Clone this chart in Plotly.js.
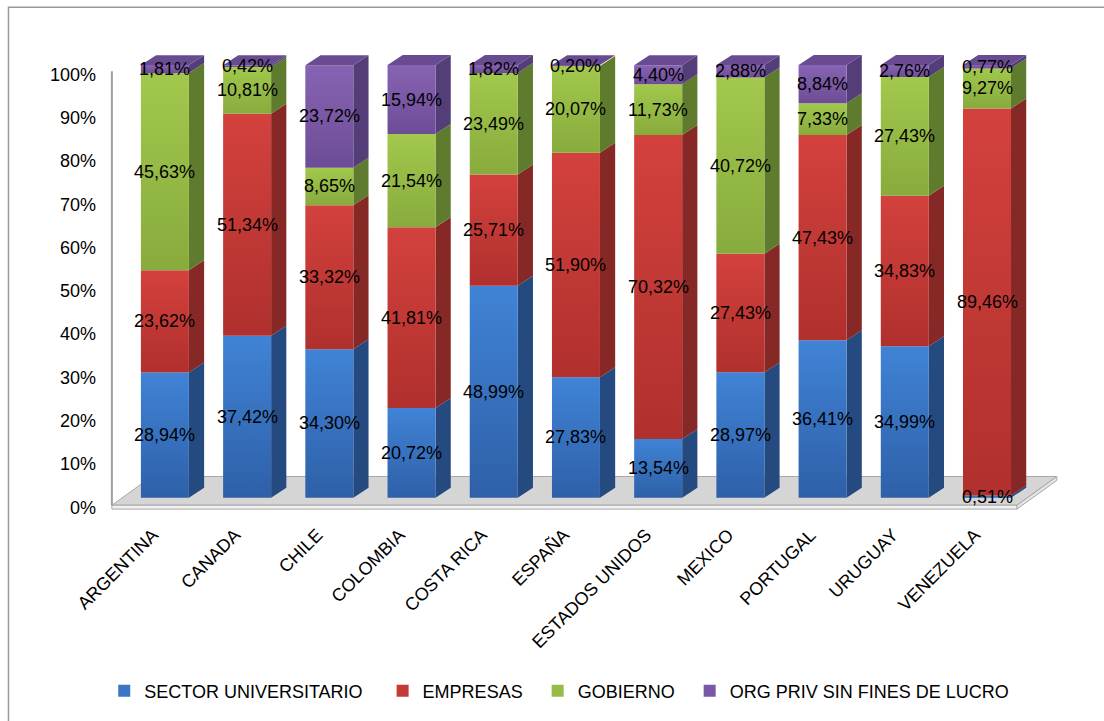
<!DOCTYPE html>
<html>
<head>
<meta charset="utf-8">
<script src="https://cdn.plot.ly/plotly-3.0.1.min.js"></script>
<style>
  html, body { margin: 0; padding: 0; background: #ffffff; }
  #chart { width: 1104px; height: 721px; }
</style>
</head>
<body>
<div id="chart"></div>
<script>
// Gasto en I+D por sector de financiamiento (% del total)
const countries = ['ARGENTINA', 'CANADA', 'CHILE', 'COLOMBIA', 'COSTA RICA', 'ESPAÑA',
                   'ESTADOS UNIDOS', 'MEXICO', 'PORTUGAL', 'URUGUAY', 'VENEZUELA'];
const seriesNames = ['SECTOR UNIVERSITARIO', 'EMPRESAS', 'GOBIERNO', 'ORG PRIV SIN FINES DE LUCRO'];

const universitario = [28.94, 37.42, 34.30, 20.72, 48.99, 27.83, 13.54, 28.97, 36.41, 34.99, 0.51];
const empresas      = [23.62, 51.34, 33.32, 41.81, 25.71, 51.90, 70.32, 27.43, 47.43, 34.83, 89.46];
const gobierno      = [45.63, 10.81,  8.65, 21.54, 23.49, 20.07, 11.73, 40.72,  7.33, 27.43,  9.27];
const orgPriv       = [ 1.81,  0.42, 23.72, 15.94,  1.82,  0.20,  4.40,  2.88,  8.84,  2.76,  0.77];

const series = [universitario, empresas, gobierno, orgPriv];

// Face colours: front (top / bottom of gradient), side, top
const frontTop    = ['#4083d6', '#d3413d', '#a2c84d', '#8764b3'];
const frontBottom = ['#2e60a8', '#b0302d', '#88ab3d', '#6d4c97'];
const sideColor   = ['#254a80', '#852826', '#5f7c2e', '#533e78'];
const topColor    = ['#4d86cc', '#c2403c', '#8fb245', '#684b91'];
const legendColor = ['#3a76c4', '#c43a36', '#96bc47', '#7a58a6'];

// 3D geometry (category units / percent units)
const BAR_W = 0.584;
const DEPTH_X = 0.185;
const DEPTH_Y = 2.3;
const BASE_Y = 2.2;

const fmt = v => v.toFixed(2).replace('.', ',') + '%';
// trailing spacing after each legend entry
const legendPad = ['\u00a0\u00a0\u00a0', '\u00a0\u00a0', '\u00a0\u00a0', ''];

const traces = [];
const annotations = [];

// cumulative stacks
const bases = series.map(() => []);
countries.forEach((c, i) => {
  let acc = 0;
  series.forEach((s, k) => { bases[k][i] = acc; acc += s[i]; });
});

// side faces (one trace per series)
series.forEach((s, k) => {
  const xs = [], ys = [];
  countries.forEach((c, i) => {
    const xr = i + BAR_W / 2;
    const b = bases[k][i] + BASE_Y;
    const t = b + s[i];
    xs.push(xr, xr + DEPTH_X, xr + DEPTH_X, xr, xr, null);
    ys.push(b, b + DEPTH_Y, t + DEPTH_Y, t, b, null);
  });
  traces.push({
    type: 'scatter', mode: 'lines', x: xs, y: ys, fill: 'toself',
    fillcolor: sideColor[k], line: { width: 0 }, hoverinfo: 'skip', showlegend: false
  });
});

// front faces (one per segment, vertical gradient)
series.forEach((s, k) => {
  countries.forEach((c, i) => {
    if (s[i] <= 0) return;
    const xl = i - BAR_W / 2, xr = i + BAR_W / 2;
    const b = bases[k][i] + BASE_Y;
    const t = b + s[i];
    traces.push({
      type: 'scatter', mode: 'lines',
      x: [xl, xr, xr, xl, xl], y: [b, b, t, t, b],
      fill: 'toself', fillcolor: frontTop[k],
      fillgradient: { type: 'vertical', start: b, stop: t,
                      colorscale: [[0, frontBottom[k]], [1, frontTop[k]]] },
      line: { width: 0 }, hoverinfo: 'skip', showlegend: false
    });
  });
});

// top faces of the highest segment
{
  const xs = [], ys = [];
  const topK = series.length - 1;
  countries.forEach((c, i) => {
    const xl = i - BAR_W / 2, xr = i + BAR_W / 2;
    const t = bases[topK][i] + series[topK][i] + BASE_Y;
    xs.push(xl, xr, xr + DEPTH_X, xl + DEPTH_X, xl, null);
    ys.push(t, t, t + DEPTH_Y, t + DEPTH_Y, t, null);
  });
  traces.push({
    type: 'scatter', mode: 'lines', x: xs, y: ys, fill: 'toself',
    fillcolor: topColor[topK], line: { width: 0 }, hoverinfo: 'skip', showlegend: false
  });
}

// legend entries
series.forEach((s, k) => {
  traces.push({
    type: 'bar', name: seriesNames[k] + legendPad[k],
    x: [null], y: [null],
    marker: { color: legendColor[k] }, showlegend: true, hoverinfo: 'skip'
  });
});

// value labels centred on each front face
series.forEach((s, k) => {
  countries.forEach((c, i) => {
    annotations.push({
      x: i, y: bases[k][i] + s[i] / 2 + BASE_Y, xref: 'x', yref: 'y',
      text: fmt(s[i]), showarrow: false,
      font: { family: 'Liberation Sans, Arial, sans-serif', size: 18, color: '#000000' }
    });
  });
});

// floor slab and left wall edge
const FL = -0.645, FR = 10.365, DX = 0.485, FY = 0.46, BY = 7.1, TH = 0.9;
const shapes = [
  { type: 'path', layer: 'below', xref: 'x', yref: 'y',
    path: `M${FL},${FY} L${FR},${FY} L${FR + DX},${BY} L${FL + DX},${BY} Z`,
    fillcolor: '#d5d5d5', line: { color: '#a8a8a8', width: 1 } },
  { type: 'path', layer: 'below', xref: 'x', yref: 'y',
    path: `M${FL},${FY} L${FR},${FY} L${FR},${FY - TH} L${FL},${FY - TH} Z`,
    fillcolor: '#f0f0f0', line: { color: '#a8a8a8', width: 1 } },
  { type: 'path', layer: 'below', xref: 'x', yref: 'y',
    path: `M${FR},${FY} L${FR + DX},${BY} L${FR + DX},${BY - TH} L${FR},${FY - TH} Z`,
    fillcolor: '#e4e4e4', line: { color: '#a8a8a8', width: 1 } },
  { type: 'line', layer: 'below', xref: 'x', yref: 'y',
    x0: FL, x1: FL, y0: FY, y1: 100.8, line: { color: '#a0a0a0', width: 2 } },
  { type: 'rect', layer: 'below', xref: 'paper', yref: 'paper',
    x0: -0.1056, x1: 1.2, y0: -0.6, y1: 1.0686,
    fillcolor: 'rgba(0,0,0,0)', line: { color: '#9a9a9a', width: 1.5 } }
];

const layout = {
  width: 1104, height: 721, autosize: false,
  paper_bgcolor: '#ffffff', plot_bgcolor: 'rgba(0,0,0,0)',
  margin: { l: 109, r: 43, t: 40, b: 200 },
  font: { family: 'Liberation Sans, Arial, sans-serif', size: 18, color: '#000000' },
  showlegend: true,
  legend: {
    orientation: 'h', x: -0.005, xanchor: 'left', y: -0.362, yanchor: 'middle',
    font: { size: 18, color: '#000000' }, itemwidth: 30, traceorder: 'normal',
    itemclick: false, itemdoubleclick: false
  },
  xaxis: {
    range: [-0.68, 10.9], tickmode: 'array',
    tickvals: countries.map((c, i) => i), ticktext: countries,
    tickangle: -45, showgrid: false, zeroline: false, showline: false,
    ticks: '', tickfont: { size: 18 }, fixedrange: true,
    ticklabelshift: -12, ticklabelstandoff: 2
  },
  yaxis: {
    range: [-2.5, 108], tickmode: 'array',
    tickvals: [0, 10, 20, 30, 40, 50, 60, 70, 80, 90, 100],
    ticktext: ['0%', '10%', '20%', '30%', '40%', '50%', '60%', '70%', '80%', '90%', '100%'],
    showgrid: false, zeroline: false, showline: false, ticks: '',
    ticklabelstandoff: 12, tickfont: { size: 18 }, fixedrange: true
  },
  shapes: shapes,
  annotations: annotations
};

Plotly.newPlot('chart', traces, layout, { displayModeBar: false, staticPlot: true });
</script>
</body>
</html>
